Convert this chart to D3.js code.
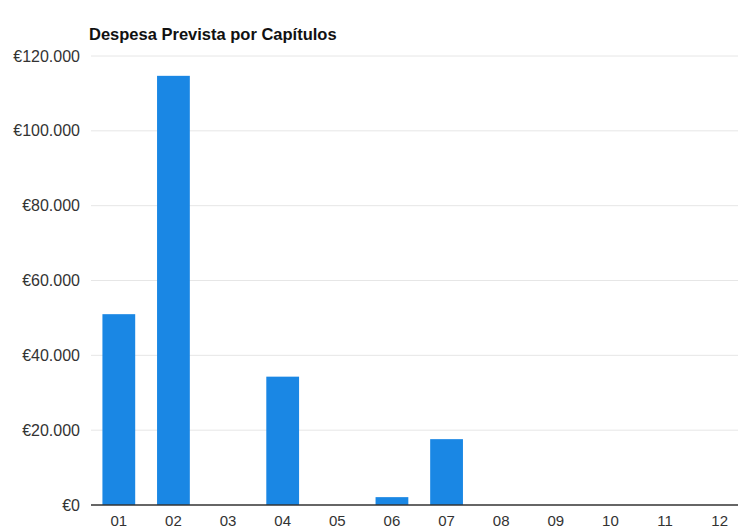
<!DOCTYPE html>
<html>
<head>
<meta charset="utf-8">
<script src="https://cdn.jsdelivr.net/npm/d3@7"></script>
<style>
  body { margin: 0; background: #fff; }
  text { font-family: "Liberation Sans", Arial, sans-serif; }
</style>
</head>
<body>
<div id="chart"></div>
<script>
// dados
var capitulos = ["01", "02", "03", "04", "05", "06", "07", "08", "09", "10", "11", "12"];
var despesa = [51000, 114700, 0, 34300, 0, 2100, 17600, 0, 0, 0, 0, 0];
var yTicks = [0, 20000, 40000, 60000, 80000, 100000, 120000];
var titulo = "Despesa Prevista por Capítulos";

var width = 738, height = 530;

var svg = d3.select("#chart")
  .append("svg")
  .attr("width", width)
  .attr("height", height);

var x = d3.scaleBand()
  .domain(capitulos)
  .range([91.5, 747])
  .paddingInner(0.4)
  .paddingOuter(0.2);

var y = d3.scaleLinear()
  .domain([0, 120000])
  .range([505, 56]);

function euro(v) {
  return "€" + d3.format(",")(v).replace(/,/g, ".");
}

// linhas de grelha
svg.append("g")
  .selectAll("line")
  .data(yTicks.filter(function(d) { return d > 0; }))
  .enter()
  .append("line")
  .attr("x1", 91)
  .attr("x2", width)
  .attr("y1", function(d) { return y(d); })
  .attr("y2", function(d) { return y(d); })
  .style("stroke", "#e6e6e6")
  .style("stroke-width", 1);

// eixo y (só texto)
svg.append("g")
  .selectAll("text")
  .data(yTicks)
  .enter()
  .append("text")
  .attr("x", 80)
  .attr("y", function(d) { return y(d); })
  .attr("dy", "0.35em")
  .attr("text-anchor", "end")
  .style("font-size", "16px")
  .style("fill", "#333")
  .text(euro);

// barras
svg.append("g")
  .selectAll("rect")
  .data(despesa)
  .enter()
  .append("rect")
  .attr("x", function(d, i) { return x(capitulos[i]); })
  .attr("width", x.bandwidth())
  .attr("y", function(d) { return y(d); })
  .attr("height", function(d) { return y(0) - y(d); })
  .style("fill", "#1a87e4");

// linha do zero
svg.append("line")
  .attr("x1", 91)
  .attr("x2", width)
  .attr("y1", y(0))
  .attr("y2", y(0))
  .style("stroke", "#333")
  .style("stroke-width", 1.5);

// eixo x
var xAxis = svg.append("g")
  .attr("transform", "translate(0," + y(0) + ")")
  .call(d3.axisBottom(x).tickSize(0).tickPadding(10));
xAxis.select(".domain").remove();
xAxis.selectAll("text")
  .style("font-size", "15px")
  .style("fill", "#333")
  .style("font-family", "'Liberation Sans', Arial, sans-serif");

// título
svg.append("text")
  .attr("x", 89)
  .attr("y", 40)
  .style("font-size", "16.5px")
  .style("font-weight", "bold")
  .style("fill", "#111")
  .text(titulo);
</script>
</body>
</html>
